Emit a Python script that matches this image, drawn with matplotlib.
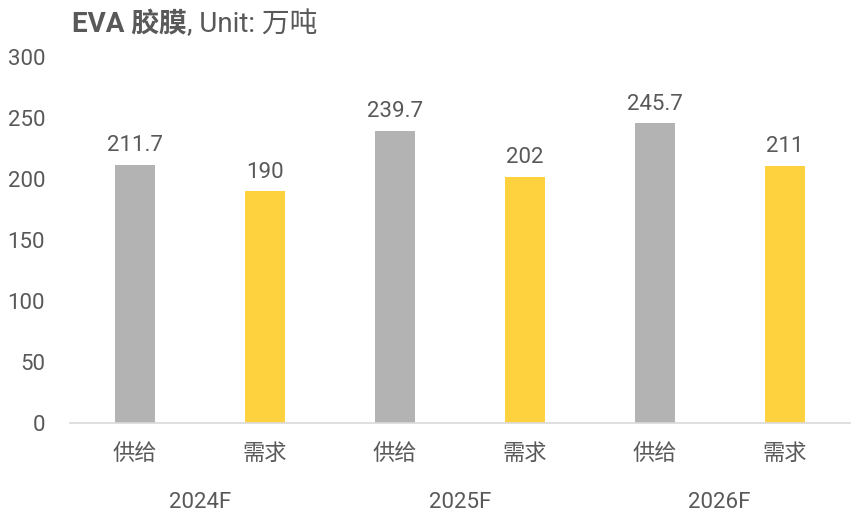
import matplotlib
matplotlib.use("Agg")
import matplotlib.pyplot as plt
from matplotlib.transforms import blended_transform_factory

plt.rcParams['font.family'] = ['Roboto', 'Noto Sans CJK SC', 'DejaVu Sans']

# data
years = ['2024F', '2025F', '2026F']
categories = ['供给', '需求', '供给', '需求', '供给', '需求']
values = [211.7, 190, 239.7, 202, 245.7, 211]
value_labels = ['211.7', '190', '239.7', '202', '245.7', '211']
colors = ['#b3b3b3', '#fdd23e'] * 3

text_color = '#595959'

fig = plt.figure(figsize=(8.6, 5.31), dpi=100)
ax = fig.add_axes([0.0814, 0.2034, 0.9066, 0.6893])

x = list(range(len(values)))
ax.bar(x, values, width=0.31, color=colors, zorder=2)

for xi, v, lab in zip(x, values, value_labels):
    ax.annotate(lab, (xi, v), xytext=(0, 6), textcoords='offset points',
                ha='center', va='bottom', fontsize=16, color=text_color)

ax.set_xlim(-0.5, len(values) - 0.5)
ax.set_ylim(0, 300)
ax.set_yticks(range(0, 301, 50))
ax.set_xticks(x)
ax.set_xticklabels(categories, family=['Noto Sans CJK SC', 'DejaVu Sans'])
ax.tick_params(axis='both', length=0, labelsize=16, colors=text_color)
ax.tick_params(axis='x', pad=14)
ax.tick_params(axis='y', pad=18)

for s in ['top', 'right', 'left']:
    ax.spines[s].set_visible(False)
ax.spines['bottom'].set_color('#d9d9d9')
ax.spines['bottom'].set_linewidth(1.2)

# group labels
trans = blended_transform_factory(ax.transData, ax.transAxes)
for i, yr in enumerate(years):
    ax.text(2 * i + 0.5, -0.218, yr, transform=trans, ha='center', va='center',
            fontsize=16, color=text_color)

# title
t1 = fig.text(0.084, 0.953, 'EVA 胶膜', fontsize=20, fontweight='bold',
              color=text_color, ha='left', va='center')
fig.canvas.draw()
ax.annotate(', Unit: 万吨', xy=(1, 0), xycoords=t1, ha='left', va='bottom',
            fontsize=20, color=text_color)

plt.savefig('out.png', dpi=100)
